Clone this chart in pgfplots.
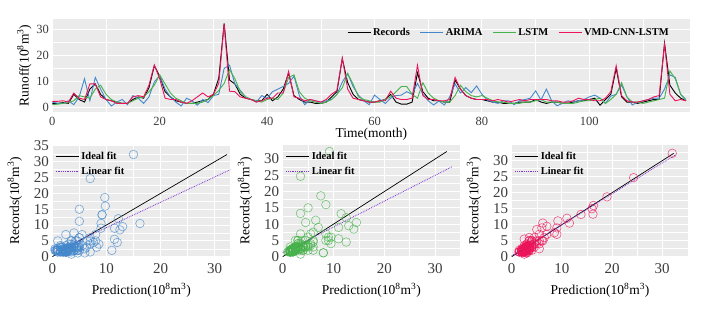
\documentclass[border=0pt]{standalone}
\usepackage{pgfplots}
\pgfplotsset{compat=1.18}
\usepackage{pgfplotstable}
\usepackage{fontspec}
\setmainfont{Liberation Serif}
\definecolor{panel}{RGB}{235,235,235}
\definecolor{cA}{RGB}{68,136,204}
\definecolor{cL}{RGB}{70,178,75}
\definecolor{cV}{RGB}{236,20,90}
\definecolor{cF}{RGB}{130,50,210}
\definecolor{tk}{RGB}{60,60,60}
\pgfplotstableread{
t R A L V
0 1.5 2.0 1.0 2.3
1 1.5 1.5 1.2 2.3
2 1.8 1.5 1.5 2.5
3 1.5 2.5 1.8 2.0
4 5.0 1.0 2.5 5.5
5 3.0 4.0 4.5 3.5
6 2.0 11.0 4.0 3.0
7 7.0 2.5 3.5 9.0
8 9.0 11.5 7.0 9.0
9 5.0 7.0 8.5 4.0
10 3.0 3.0 5.0 3.0
11 2.5 0.5 3.0 2.5
12 2.0 2.0 2.0 1.5
13 1.5 3.0 1.5 1.5
14 1.5 1.0 1.5 1.5
15 3.0 4.5 2.5 4.0
16 4.0 3.5 3.5 4.5
17 3.5 1.5 4.0 4.0
18 7.5 4.0 6.0 8.5
19 16.0 9.8 8.5 16.3
20 12.0 12.2 12.5 11.0
21 6.0 7.0 9.0 3.5
22 4.0 4.0 5.5 3.0
23 2.5 2.0 3.5 3.0
24 2.0 0.5 2.5 2.0
25 1.5 3.5 1.5 1.5
26 1.5 2.5 1.5 2.5
27 2.0 0.8 1.5 4.0
28 2.5 3.0 2.0 5.5
29 3.0 1.8 3.0 4.0
30 5.0 4.5 4.5 5.0
31 11.2 5.0 6.5 9.2
32 32.3 15.0 9.2 32.0
33 10.5 16.2 14.5 6.2
34 9.0 9.0 11.0 6.0
35 5.0 6.5 6.0 4.0
36 3.5 4.0 4.0 3.5
37 3.0 3.0 3.0 3.0
38 2.5 2.0 2.5 2.0
39 2.5 4.5 2.0 2.5
40 5.0 3.5 3.0 3.5
41 2.5 6.0 3.5 3.5
42 4.0 7.0 3.0 5.5
43 7.0 8.0 5.5 5.5
44 13.2 9.2 11.5 13.8
45 4.5 12.0 12.5 4.0
46 3.0 4.5 6.0 3.5
47 2.0 1.0 3.5 2.5
48 2.0 3.0 2.5 3.0
49 1.5 2.5 2.0 2.5
50 1.5 2.0 1.5 2.0
51 2.0 2.5 2.0 3.0
52 4.0 3.0 3.0 5.0
53 6.0 5.0 5.0 6.5
54 18.7 9.7 7.5 19.0
55 9.5 13.0 13.0 7.0
56 5.0 8.0 9.0 3.5
57 3.0 4.7 4.0 3.0
58 2.5 2.5 3.0 2.5
59 2.0 1.0 2.5 2.0
60 2.0 4.7 2.0 2.0
61 2.5 3.0 2.0 2.5
62 3.0 1.5 3.0 2.5
63 5.0 3.5 4.0 6.2
64 2.0 4.5 6.0 3.5
65 1.2 4.7 8.0 3.0
66 1.2 6.0 8.0 3.0
67 2.0 5.0 5.0 3.5
68 13.3 9.2 3.5 16.2
69 6.0 5.0 9.5 4.5
70 3.5 2.5 5.5 3.0
71 2.5 0.9 3.5 3.0
72 2.5 2.4 2.5 2.5
73 2.0 0.9 2.0 2.5
74 2.0 4.0 2.0 3.0
75 10.5 9.0 4.5 11.5
76 7.0 5.5 8.5 7.0
77 4.5 7.6 6.0 4.5
78 3.5 5.6 4.5 3.5
79 3.0 8.2 4.0 3.0
80 3.0 5.0 4.5 3.0
81 2.5 2.8 3.5 3.0
82 2.0 2.0 2.5 2.5
83 2.0 1.5 2.0 3.0
84 1.5 2.5 2.0 2.5
85 1.5 2.5 1.5 2.0
86 1.5 1.0 1.5 2.5
87 2.0 2.5 1.5 3.0
88 2.0 3.0 2.0 2.5
89 2.0 3.5 2.0 3.0
90 3.0 6.3 2.5 3.0
91 2.0 2.8 3.0 3.0
92 1.5 7.0 2.0 3.0
93 2.0 2.4 2.0 2.5
94 2.0 0.6 2.0 2.5
95 1.5 1.5 1.5 2.0
96 1.5 2.5 1.5 2.0
97 2.0 2.0 1.5 2.5
98 2.5 2.5 2.0 3.5
99 2.5 3.0 2.5 3.0
100 3.0 4.0 2.5 3.0
101 3.5 4.7 3.0 2.5
102 0.8 3.5 3.5 2.5
103 3.0 1.5 1.5 3.5
104 5.0 4.3 3.0 6.0
105 15.0 5.0 5.0 16.0
106 4.0 8.6 9.5 4.5
107 2.0 4.0 4.0 2.5
108 2.0 0.9 2.0 2.0
109 1.5 2.0 2.0 2.0
110 2.0 2.5 1.5 2.5
111 2.5 3.0 2.0 3.0
112 3.0 3.5 2.5 4.0
113 3.0 3.5 3.0 4.5
114 24.7 7.0 3.5 24.3
115 8.5 12.5 14.0 5.0
116 5.5 11.5 11.0 2.5
117 3.5 5.0 5.0 3.0
118 2.5 3.0 2.5 2.5
}\data
\pgfplotsset{
  gg/.style={
    scale only axis,
    axis background/.style={fill=panel},
    axis line style={draw=none},
    grid=both,
    major grid style={white,line width=0.9pt},
    minor grid style={white,line width=0.45pt},
    minor tick num=1,
    tick style={draw=none},
    tick align=outside,
    major tick length=0pt,
    minor tick length=0pt,
    /pgf/number format/assume math mode=true,
    tick label style={text=tk},
    label style={text=black},
    legend cell align=left,
  },
  sc/.style={gg,
    width=178pt,height=111.7pt,
    xmin=0,ymin=0,
    xtick={0,10,20,30},
    ytick={0,5,10,15,20,25,30,35},
    minor xtick={5,15,25},
    minor ytick={2.5,7.5,12.5,17.5,22.5,27.5,32.5},
    tick label style={font=\fontsize{15}{17}\selectfont},
    xticklabel style={yshift=-3pt},
    xlabel={Prediction(10\textsuperscript{8}m\textsuperscript{3})},
    ylabel={Records(10\textsuperscript{8}m\textsuperscript{3})},
    label style={font=\fontsize{13.5}{15}\selectfont},
    xlabel style={yshift=-3pt},
    ylabel style={yshift=5pt},
    legend style={at={(0.01,0.965)},anchor=north west,draw=none,fill=none,
      font=\fontsize{10.5}{12}\selectfont\bfseries,row sep=2pt,inner sep=1pt},
    legend image code/.code={\draw[##1,line width=1.1pt] (0pt,0pt) -- (23pt,0pt);},
  },
}
\begin{document}
\begin{tikzpicture}
\path[use as bounding box] (0,0) rectangle (707pt,-318pt);
% top panel
\begin{axis}[gg,
  at={(52.3pt,-19pt)},anchor=north west,
  width=638pt,height=92.7pt,
  xmin=0,xmax=118.8,ymin=-1.7,ymax=34,
  xtick={0,20,40,60,80,100},
  minor xtick={10,30,50,70,90,110},
  ytick={0,10,20,30},
  minor ytick={5,15,25},
  tick label style={font=\fontsize{12.5}{14}\selectfont},
  xticklabel style={yshift=-1.5pt},
  xlabel={Time(month)},
  ylabel={Runoff(10\textsuperscript{8}m\textsuperscript{3})},
  label style={font=\fontsize{13.5}{15}\selectfont},
  xlabel style={yshift=3.5pt},
  ylabel style={yshift=-2pt},
  legend columns=4,
  legend style={at={(0.462,0.85)},anchor=west,draw=none,fill=none,
    font=\fontsize{10.5}{12}\selectfont\bfseries,inner sep=0pt,
    /tikz/every even column/.append style={column sep=8pt}},
  legend image code/.code={\draw[#1] (0pt,0pt) -- (23pt,0pt);},
]
\addplot[black,line width=0.9pt] table[x=t,y=R]{\data};
\addlegendentry{Records}
\addplot[cA,line width=0.9pt] table[x=t,y=A]{\data};
\addlegendentry{ARIMA}
\addplot[cL,line width=0.9pt] table[x=t,y=L]{\data};
\addlegendentry{LSTM}
\addplot[cV,line width=0.9pt] table[x=t,y=V]{\data};
\addlegendentry{VMD-CNN-LSTM}
\end{axis}
% bottom 1
\begin{axis}[sc,at={(52.3pt,-145pt)},anchor=north west,xmax=32.9,ymax=35.3]
\addplot[only marks,mark=o,mark size=4.3pt,cA,mark options={line width=0.6pt,draw opacity=0.7},forget plot] table[x=A,y=R]{\data};
\addplot[black,line width=0.7pt] coordinates {(0,0) (32.3,32.3)};
\addlegendentry{Ideal fit}
\addplot[cF,line width=0.8pt,densely dotted] coordinates {(0,1.2) (32.9,27.5)};
\addlegendentry{Linear fit}
\end{axis}
% bottom 2
\begin{axis}[sc,at={(282.7pt,-145pt)},anchor=north west,width=177.3pt,xmax=34.9,ymax=34.3,ytick={0,5,10,15,20,25,30}]
\addplot[only marks,mark=o,mark size=4.3pt,cL,mark options={line width=0.6pt,draw opacity=0.7},forget plot] table[x=L,y=R]{\data};
\addplot[black,line width=0.7pt] coordinates {(0,0) (32.3,32.3)};
\addlegendentry{Ideal fit}
\addplot[cF,line width=0.8pt,densely dotted] coordinates {(0,1.2) (33.3,27.6)};
\addlegendentry{Linear fit}
\end{axis}
% bottom 3
\begin{axis}[sc,at={(511.7pt,-145pt)},anchor=north west,width=176.6pt,xmax=35.2,ymax=34.9,ytick={0,5,10,15,20,25,30}]
\addplot[only marks,mark=o,mark size=4.3pt,cV,mark options={line width=0.6pt,draw opacity=0.7},forget plot] table[x=V,y=R]{\data};
\addplot[black,line width=0.7pt] coordinates {(0,0) (32.3,32.3)};
\addlegendentry{Ideal fit}
\addplot[cF,line width=0.8pt,densely dotted] coordinates {(0,0.3) (32.6,31.8)};
\addlegendentry{Linear fit}
\end{axis}
\end{tikzpicture}
\end{document}
